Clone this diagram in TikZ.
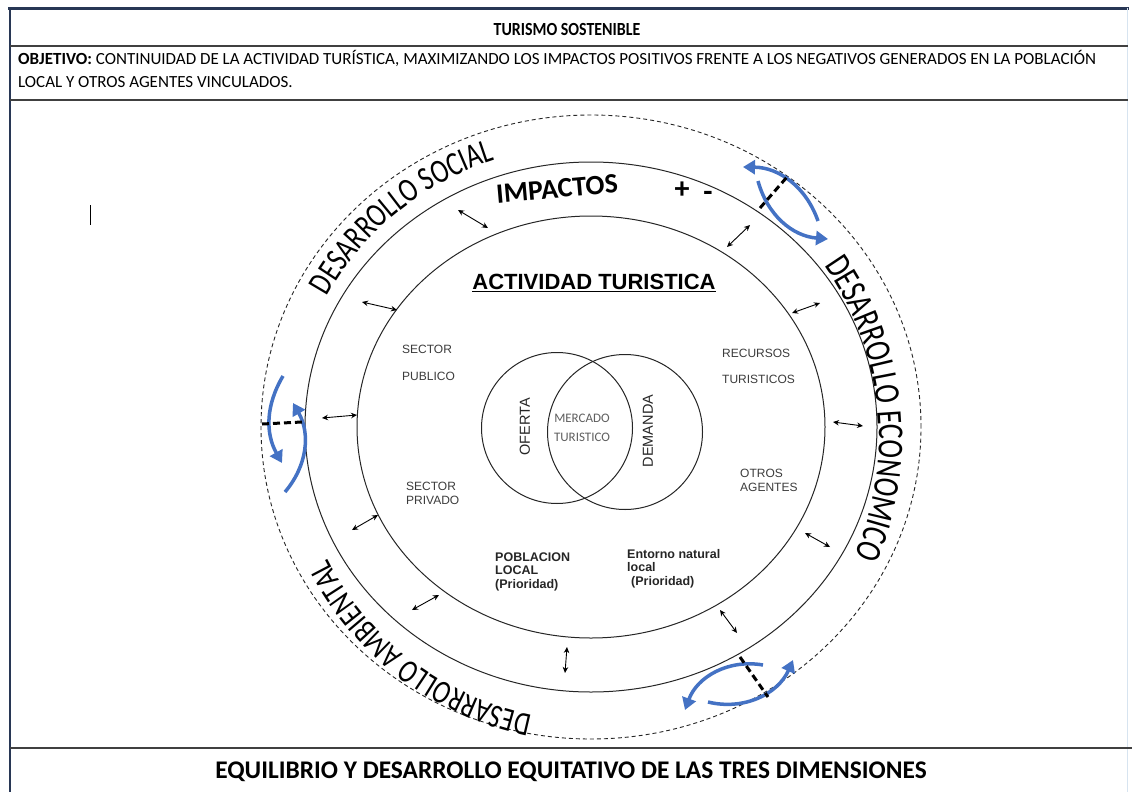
\documentclass[tikz,border=0pt]{standalone}
\usepackage{fontspec}
\setmainfont{Carlito}
\newfontfamily\arialf{Liberation Sans}
\usetikzlibrary{arrows.meta,decorations.text}
\definecolor{oblue}{RGB}{68,114,196}
\definecolor{navy}{RGB}{40,55,85}
\definecolor{txtgrey}{RGB}{60,60,60}
\definecolor{lgrey}{RGB}{95,95,95}
\begin{document}
\begin{tikzpicture}[x=1pt,y=1pt,
  rule/.style={draw=black!75, line width=1.5pt},
  ring/.style={draw=black!85, line width=1pt},
  dimarrow/.style={draw=black, line width=0.9pt, {Stealth[length=6pt,width=5.5pt]}-{Stealth[length=6pt,width=5.5pt]}},
  bluearc/.style={draw=oblue, line width=3.5pt},
  bhead/.style={-{Triangle[length=12pt,width=14pt]}},
  bheadstart/.style={{Triangle[length=12pt,width=14pt]}-},
  cut/.style={draw=black, line width=3pt, dash pattern=on 7pt off 4pt},
  inlabel/.style={font=\arialf\fontsize{12}{14}\selectfont, text=txtgrey, align=left, anchor=base west, inner sep=0pt},
  boldlabel/.style={font=\arialf\bfseries\fontsize{12.5}{13.5}\selectfont, text=black!85, align=left, anchor=base west, inner sep=0pt},
  venn/.style={draw=black!85, line width=1pt, circle, inner sep=0pt},
]
\useasboundingbox (0,0) rectangle (1132,-792);
\fill[white] (0,0) rectangle (1132,-792);

% frame
\draw[navy, line width=3pt] (8,-9) -- (1129,-9);
\draw[navy, line width=2pt] (10,-8) -- (10,-792);
\draw[draw={rgb,255:red,215;green,228;blue,240}, line width=1pt] (1127,-8) -- (1127,-792);
\draw[rule] (10,-46) -- (1128,-46);
\draw[rule] (10,-100) -- (1128,-100);
\draw[rule] (10,-748) -- (1132,-748);

\node[font=\bfseries\fontsize{18.5}{20}\selectfont] (title) at (567,-30) {\scalebox{0.86}[1]{TURISMO SOSTENIBLE}};
\node[font=\fontsize{17}{23}\selectfont, align=left, anchor=base west, inner sep=0pt] (obj) at (18,-88)
  {\textbf{OBJETIVO:} CONTINUIDAD DE LA ACTIVIDAD TURÍSTICA, MAXIMIZANDO LOS IMPACTOS POSITIVOS FRENTE A LOS NEGATIVOS GENERADOS EN LA POBLACIÓN\\LOCAL Y OTROS AGENTES VINCULADOS.};
\node[font=\bfseries\fontsize{25.4}{28}\selectfont] (foot) at (571,-772) {EQUILIBRIO Y DESARROLLO EQUITATIVO DE LAS TRES DIMENSIONES};

% cursor mark
\coordinate (cur1) at (90,-205);
\coordinate (cur2) at (90,-225);
\draw[black, line width=0.8pt] (cur1) -- (cur2);

% rings
\coordinate (c) at (591,-427);
\draw[ring] (c) ellipse [x radius=234, y radius=211];
\draw[ring] (c) ellipse [x radius=286, y radius=265];
\draw[draw=black!85, line width=0.9pt, dash pattern=on 4pt off 3pt] (c) ellipse [x radius=330, y radius=312];

% arc texts
\path[font=\fontsize{26}{26}\selectfont, decorate, decoration={text effects along path, text={DESARROLLO SOCIAL}, text align=center,
  text effects/.cd, characters={text along path, yscale=1.3}}]
  (c) ++(172:298 and 282) arc[start angle=172, end angle=90, x radius=298, y radius=282];
\coordinate (ce) at (580,-438);
\path[font=\fontsize{28}{28}\selectfont, decorate, decoration={text effects along path, text={DESARROLLO ECONOMICO}, text align=center,
  text effects/.cd, characters={text along path, yscale=1.3}}]
  (ce) ++(62:299) arc[start angle=62, end angle=-50, radius=299];
\path[font=\fontsize{25.5}{25.5}\selectfont, decorate, decoration={text effects along path, text={DESARROLLO AMBIENTAL}, text align=center,
  text effects/.cd, characters={text along path, yscale=1.3}}]
  (c) ++(280:295 and 294) arc[start angle=280, end angle=185, x radius=295, y radius=294];

% IMPACTOS and signs
\node[font=\bfseries\fontsize{28}{28}\selectfont, rotate=5] (imp) at (557,-189) {IMPACTOS};
\node[font=\bfseries\fontsize{30}{30}\selectfont] (plus) at (682,-190) {+};
\node[font=\bfseries\fontsize{30}{30}\selectfont] (minus) at (708,-196) {-};

% central title
\node[font=\arialf\bfseries\fontsize{22}{24}\selectfont] (act) at (594,-283) {\underline{ACTIVIDAD TURISTICA}};

% labels
\node[inlabel, font=\arialf\fontsize{12}{27}\selectfont] (spub) at (402,-380) {SECTOR\\PUBLICO};
\node[inlabel] (spriv) at (406,-504) {SECTOR\\PRIVADO};
\node[inlabel, font=\arialf\fontsize{12}{26}\selectfont] (rec) at (722,-383) {RECURSOS\\TURISTICOS};
\node[inlabel] (otros) at (740,-491) {OTROS\\AGENTES};
\node[boldlabel] (pob) at (495,-588) {POBLACION\\LOCAL\\(Prioridad)};
\node[boldlabel] (ent) at (627,-585) {Entorno natural\\local\\\hspace*{4pt}(Prioridad)};

% venn
\node[venn, minimum size=151pt] (of) at (557,-428) {};
\node[venn, minimum size=155pt] (de) at (625,-432) {};
\node[font=\arialf\fontsize{14.5}{16}\selectfont, rotate=90, text=black!85] (oft) at (525,-427) {OFERTA};
\node[font=\arialf\fontsize{14.5}{16}\selectfont, rotate=90, text=black!85] (det) at (648,-431) {DEMANDA};
\node[font=\fontsize{13}{19}\selectfont, text=lgrey, align=center] (merc) at (582,-428) {MERCADO\\TURISTICO};

% small double arrows
\foreach \i/\ax/\ay/\bx/\by in {1/458/210/488/228, 2/362/302/397/310, 3/322/418/357/415,
  4/352/530/378/515, 5/412/610/439/595, 6/567/647/565/673, 7/720/610/737/633,
  8/805/533/830/547, 9/833/422/863/426, 10/792/313/820/303, 11/727/247/750/225}{
  \coordinate (da\i) at (\ax,-\ay);
  \coordinate (db\i) at (\bx,-\by);
  \draw[dimarrow] (da\i) -- (db\i);
}

% blue cycle arrows: top right
\coordinate (a1) at (743,-167);
\coordinate (a2) at (818,-221);
\coordinate (b1) at (758,-181);
\coordinate (b2) at (828,-239);
\draw[bluearc, bheadstart] (a1) to[bend left=35] (a2);
\draw[bluearc, bhead] (b1) to[bend right=35] (b2);
\coordinate (k1) at (760,-208);
\coordinate (k2) at (787,-177);
\draw[cut] (k1) -- (k2);

% left
\coordinate (c1) at (283,-376);
\coordinate (c2) at (282,-463);
\coordinate (d1) at (285,-492);
\coordinate (d2) at (293,-403);
\draw[bluearc, bhead] (c1) to[bend right=30] (c2);
\draw[bluearc, bhead] (d1) to[bend right=35] (d2);
\coordinate (k3) at (262,-424);
\coordinate (k4) at (302,-422);
\draw[cut] (k3) -- (k4);

% bottom right
\coordinate (e1) at (763,-665);
\coordinate (e2) at (685,-710);
\coordinate (f1) at (708,-702);
\coordinate (f2) at (793,-660);
\draw[bluearc, bhead] (e1) to[bend right=40] (e2);
\draw[bluearc, bhead] (f1) to[bend right=40] (f2);
\coordinate (k5) at (740,-657);
\coordinate (k6) at (768,-697);
\draw[cut] (k5) -- (k6);
\end{tikzpicture}
\end{document}
